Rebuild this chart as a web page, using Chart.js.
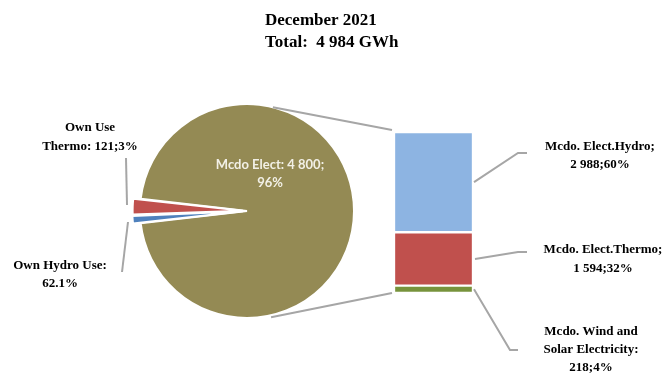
<!DOCTYPE html>
<html>
<head>
<meta charset="utf-8">
<script src="https://cdn.jsdelivr.net/npm/chart.js@4.4.0/dist/chart.umd.min.js"></script>
<style>
  html, body { margin: 0; padding: 0; background: #fff; }
  #wrap { position: relative; width: 670px; height: 373px; }
  #wrap canvas { position: absolute; left: 0; top: 0; }
</style>
</head>
<body>
<div id="wrap">
  <canvas id="pieChart" width="670" height="373"></canvas>
  <canvas id="barChart" width="670" height="373"></canvas>
</div>
<script>
// Energy, December 2021 (GWh)
const titleLines = ['December 2021', 'Total:  4 984 GWh'];

const pieLabels = ['Mcdo Elect', 'Own Hydro Use', 'Own Use Thermo'];
const pieValues = [4800, 62.1, 121];
const pieColors = ['#948A54', '#4F81BD', '#C0504D'];
const pieText = [
    ['Mcdo Elect: 4 800;', '96%'],
    ['Own Hydro Use:', '62.1%'],
    ['Own Use', 'Thermo: 121;3%']
];

// bar of the "Mcdo Elect" slice, bottom segment first
const barLabels = ['Mcdo. Wind and Solar Electricity', 'Mcdo. Elect.Thermo', 'Mcdo. Elect.Hydro'];
const barValues = [218, 1594, 2988];
const barColors = ['#77933C', '#C0504D', '#8DB4E2'];
const barText = [
    ['Mcdo. Wind and', 'Solar Electricity:', '218;4%'],
    ['Mcdo. Elect.Thermo;', '1 594;32%'],
    ['Mcdo. Elect.Hydro;', '2 988;60%']
];

const LEADER = '#A6A6A6';
const SERIF = 'bold 13px "Liberation Serif", "Times New Roman", serif';

function drawLines(ctx, lines, x, y, lh, font, color) {
    ctx.save();
    ctx.font = font;
    ctx.fillStyle = color;
    ctx.textAlign = 'center';
    ctx.textBaseline = 'middle';
    lines.forEach((t, i) => ctx.fillText(t, x, y + i * lh));
    ctx.restore();
}

function polyline(ctx, pts, color, width) {
    ctx.save();
    ctx.strokeStyle = color;
    ctx.lineWidth = width;
    ctx.beginPath();
    pts.forEach((p, i) => i ? ctx.lineTo(p[0], p[1]) : ctx.moveTo(p[0], p[1]));
    ctx.stroke();
    ctx.restore();
}

// small slices sit centred on the left side of the pie
const pieTotal = pieValues.reduce((a, b) => a + b, 0);
const smallAngle = (pieTotal - pieValues[0]) / pieTotal * 360;

const pieLabelPlugin = {
    id: 'pieLabels',
    afterDraw(chart) {
        const ctx = chart.ctx;
        const arc = chart.getDatasetMeta(0).data[0];
        const cx = arc.x, cy = arc.y;

        // title
        ctx.save();
        ctx.font = 'bold 17px "Liberation Serif", "Times New Roman", serif';
        ctx.fillStyle = '#000';
        ctx.textAlign = 'left';
        ctx.textBaseline = 'middle';
        titleLines.forEach((t, i) => ctx.fillText(t, 265, 21 + i * 22));
        ctx.restore();

        // label inside the big slice
        drawLines(ctx, pieText[0], cx + 23, cy - 46, 18, 'bold 13px Lato, "Open Sans", sans-serif', '#F2F0E6');

        // left labels + leader lines
        polyline(ctx, [[126, 158], [127, 205]], LEADER, 2);
        drawLines(ctx, pieText[2], 90, 128, 19, SERIF, '#000');
        polyline(ctx, [[128, 222], [122, 272]], LEADER, 2);
        drawLines(ctx, pieText[1], 60, 266, 18, SERIF, '#000');
    }
};

const pieChart = new Chart(document.getElementById('pieChart'), {
    type: 'pie',
    data: {
        labels: pieLabels,
        datasets: [{
            data: pieValues,
            backgroundColor: pieColors,
            borderColor: '#fff',
            borderWidth: 2,
            hoverBorderWidth: 2,
            offset: [0, 16, 16],
            hoverOffset: 0
        }]
    },
    options: {
        responsive: false,
        animation: false,
        events: [],
        radius: 107,
        rotation: -90 + smallAngle / 2,
        layout: { padding: { left: 130, right: 306, top: 97, bottom: 48 } },
        plugins: { legend: { display: false }, tooltip: { enabled: false } }
    },
    plugins: [pieLabelPlugin]
});

const barLabelPlugin = {
    id: 'barLabels',
    afterDraw(chart) {
        const ctx = chart.ctx;
        const top = chart.getDatasetMeta(2).data[0];
        const bottom = chart.getDatasetMeta(0).data[0];
        const left = top.x - top.width / 2;
        const right = top.x + top.width / 2;

        // series lines from the pie to the bar
        const arc = pieChart.getDatasetMeta(0).data[0];
        const r = arc.outerRadius;
        const a1 = -76 * Math.PI / 180, a2 = 77 * Math.PI / 180;
        polyline(ctx, [[arc.x + r * Math.cos(a1), arc.y + r * Math.sin(a1)], [left - 2, top.y - 2]], LEADER, 2);
        polyline(ctx, [[arc.x + r * Math.cos(a2), arc.y + r * Math.sin(a2) + 2], [left - 2, bottom.base]], LEADER, 2);

        // right leader lines + labels
        const mid = i => {
            const b = chart.getDatasetMeta(i).data[0];
            return (b.y + b.base) / 2;
        };
        polyline(ctx, [[right + 1, mid(2)], [518, 153], [527, 153]], LEADER, 2);
        drawLines(ctx, barText[2], 600, 147, 18, SERIF, '#000');
        polyline(ctx, [[right + 2, mid(1)], [518, 252], [527, 252]], LEADER, 2);
        drawLines(ctx, barText[1], 603, 250, 19, SERIF, '#000');
        polyline(ctx, [[right + 1, mid(0)], [510, 350], [518, 350]], LEADER, 2);
        drawLines(ctx, barText[0], 591, 332, 18, SERIF, '#000');
    }
};

const barChart = new Chart(document.getElementById('barChart'), {
    type: 'bar',
    data: {
        labels: ['Mcdo Elect'],
        datasets: barValues.map((v, i) => ({
            label: barLabels[i],
            data: [v],
            backgroundColor: barColors[i],
            borderColor: '#fff',
            borderWidth: 1.5,
            borderSkipped: false,
            barPercentage: 1,
            categoryPercentage: 1
        }))
    },
    options: {
        responsive: false,
        animation: false,
        events: [],
        layout: { padding: { left: 394, right: 197, top: 132, bottom: 80 } },
        scales: {
            x: { stacked: true, display: false },
            y: { stacked: true, display: false, min: 0, max: barValues.reduce((a, b) => a + b, 0) }
        },
        plugins: { legend: { display: false }, tooltip: { enabled: false } }
    },
    plugins: [barLabelPlugin]
});
</script>
</body>
</html>
